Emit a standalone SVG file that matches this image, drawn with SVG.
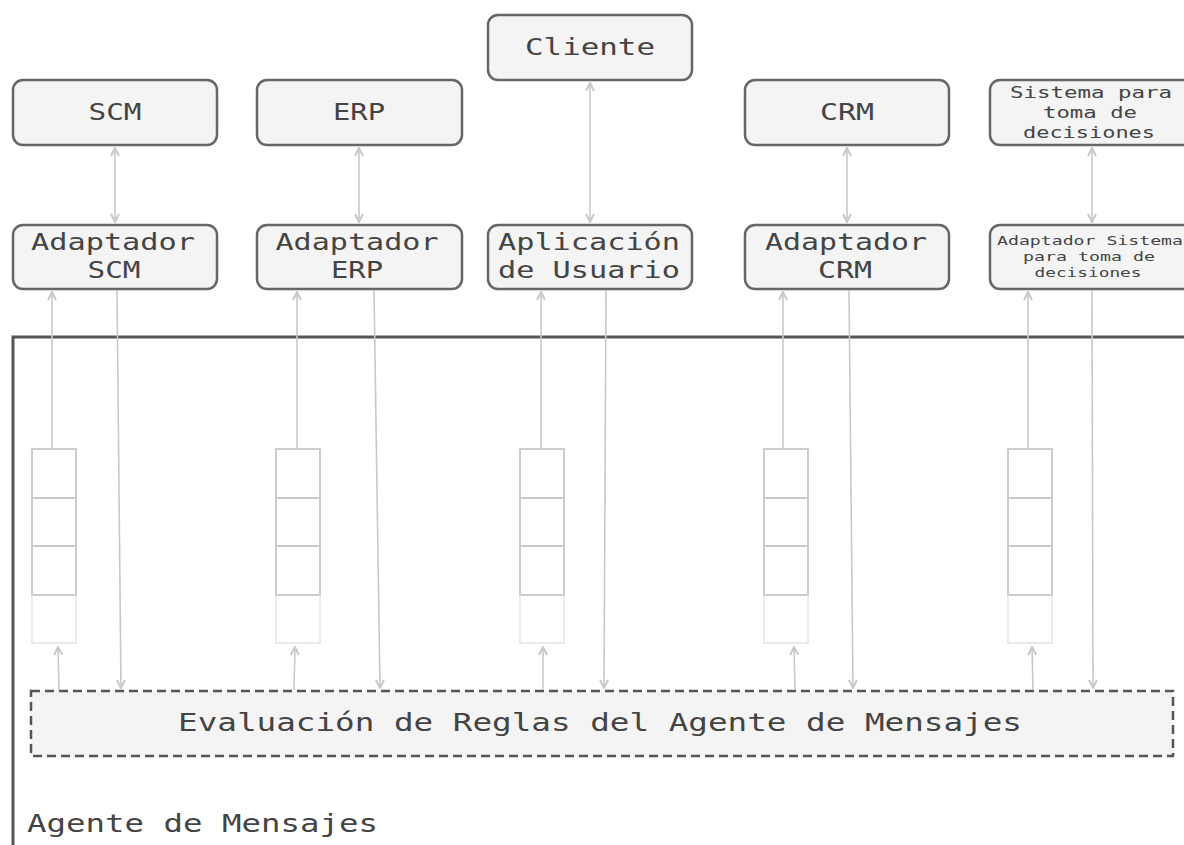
<svg xmlns="http://www.w3.org/2000/svg" width="1184" height="845" viewBox="0 0 1184 845">
<style>
.node{fill:#f4f4f4;stroke:#666;stroke-width:2.5}
.t{font-family:"DejaVu Sans Mono","Liberation Mono",monospace;fill:#444;text-anchor:middle}
.ts{font-family:"DejaVu Sans Mono","Liberation Mono",monospace;fill:#444;text-anchor:start}
.big{font-size:23px}
.c{fill:none;stroke:#c8c8c8;stroke-width:1.6}
.q{fill:#fff;stroke:#c8c8c8;stroke-width:1.8}
.qd{fill:none;stroke:#e4e4e4;stroke-width:1.5}
</style>
<defs>
<marker id="ah" viewBox="0 0 10 10" refX="9" refY="5" markerWidth="10" markerHeight="10" markerUnits="userSpaceOnUse" orient="auto-start-reverse">
<path d="M1,1 L9,5 L1,9" fill="none" stroke="#c8c8c8" stroke-width="2"/>
</marker>
</defs>
<rect width="1184" height="845" fill="#fff"/>

<g id="agente-mensajes">
<rect x="13" y="337" width="1200" height="560" fill="#fff" stroke="#555" stroke-width="3"/>
<text class="ts" x="27" y="832" font-size="24" textLength="351" lengthAdjust="spacingAndGlyphs">Agente de Mensajes</text>
</g>

<g id="scm"><rect class="node" x="13" y="80" width="204" height="65" rx="10"/><text class="t big" x="115" y="120" textLength="53" lengthAdjust="spacingAndGlyphs">SCM</text></g>
<g id="erp"><rect class="node" x="257" y="80" width="205" height="65" rx="10"/><text class="t big" x="359" y="120" textLength="52" lengthAdjust="spacingAndGlyphs">ERP</text></g>
<g id="cliente"><rect class="node" x="488" y="15" width="204" height="65" rx="10"/><text class="t big" x="590" y="55" textLength="130" lengthAdjust="spacingAndGlyphs">Cliente</text></g>
<g id="crm"><rect class="node" x="745" y="80" width="204" height="65" rx="10"/><text class="t big" x="847" y="120" textLength="54" lengthAdjust="spacingAndGlyphs">CRM</text></g>
<g id="sistema"><rect class="node" x="990" y="80" width="210" height="65" rx="10"/>
<text class="t" font-size="16" x="1091" y="98" textLength="162" lengthAdjust="spacingAndGlyphs">Sistema para</text>
<text class="t" font-size="16" x="1090" y="118" textLength="94" lengthAdjust="spacingAndGlyphs">toma de</text>
<text class="t" font-size="16" x="1089" y="138" textLength="132" lengthAdjust="spacingAndGlyphs">decisiones</text></g>

<g id="adaptador-scm"><rect class="node" x="13" y="225" width="204" height="64" rx="10"/>
<text class="t big" x="113" y="250" textLength="164" lengthAdjust="spacingAndGlyphs">Adaptador</text>
<text class="t big" x="114" y="278" textLength="53" lengthAdjust="spacingAndGlyphs">SCM</text></g>
<g id="adaptador-erp"><rect class="node" x="257" y="225" width="205" height="64" rx="10"/>
<text class="t big" x="357" y="250" textLength="163" lengthAdjust="spacingAndGlyphs">Adaptador</text>
<text class="t big" x="357" y="278" textLength="52" lengthAdjust="spacingAndGlyphs">ERP</text></g>
<g id="aplicacion-usuario"><rect class="node" x="488" y="225" width="204" height="64" rx="10"/>
<text class="t big" x="589" y="250" textLength="182" lengthAdjust="spacingAndGlyphs">Aplicación</text>
<text class="t big" x="589" y="278" textLength="182" lengthAdjust="spacingAndGlyphs">de Usuario</text></g>
<g id="adaptador-crm"><rect class="node" x="745" y="225" width="204" height="64" rx="10"/>
<text class="t big" x="846" y="250" textLength="162" lengthAdjust="spacingAndGlyphs">Adaptador</text>
<text class="t big" x="845" y="278" textLength="54" lengthAdjust="spacingAndGlyphs">CRM</text></g>
<g id="adaptador-sistema"><rect class="node" x="990" y="225" width="210" height="64" rx="10"/>
<text class="t" font-size="13" x="1090" y="245" textLength="186" lengthAdjust="spacingAndGlyphs">Adaptador Sistema</text>
<text class="t" font-size="13" x="1089" y="261" textLength="132" lengthAdjust="spacingAndGlyphs">para toma de</text>
<text class="t" font-size="13" x="1088" y="277" textLength="107" lengthAdjust="spacingAndGlyphs">decisiones</text></g>

<g id="evaluacion-reglas">
<rect x="31" y="691" width="1142" height="65" fill="#f4f4f4" stroke="#555" stroke-width="2.5" stroke-dasharray="9,5"/>
<text class="t" x="600" y="731" font-size="24" textLength="844" lengthAdjust="spacingAndGlyphs">Evaluación de Reglas del Agente de Mensajes</text>
</g>

<g id="colas">
<g id="cola-scm"><rect class="q" x="32" y="449" width="44" height="146"/><line class="q" x1="32" y1="498" x2="76" y2="498"/><line class="q" x1="32" y1="546" x2="76" y2="546"/><path class="qd" d="M32,595 V643 H76 V595"/></g>
<g id="cola-erp"><rect class="q" x="276" y="449" width="44" height="146"/><line class="q" x1="276" y1="498" x2="320" y2="498"/><line class="q" x1="276" y1="546" x2="320" y2="546"/><path class="qd" d="M276,595 V643 H320 V595"/></g>
<g id="cola-app"><rect class="q" x="520" y="449" width="44" height="146"/><line class="q" x1="520" y1="498" x2="564" y2="498"/><line class="q" x1="520" y1="546" x2="564" y2="546"/><path class="qd" d="M520,595 V643 H564 V595"/></g>
<g id="cola-crm"><rect class="q" x="764" y="449" width="44" height="146"/><line class="q" x1="764" y1="498" x2="808" y2="498"/><line class="q" x1="764" y1="546" x2="808" y2="546"/><path class="qd" d="M764,595 V643 H808 V595"/></g>
<g id="cola-sistema"><rect class="q" x="1008" y="449" width="44" height="146"/><line class="q" x1="1008" y1="498" x2="1052" y2="498"/><line class="q" x1="1008" y1="546" x2="1052" y2="546"/><path class="qd" d="M1008,595 V643 H1052 V595"/></g>
</g>

<g id="connectors">
<path class="c" d="M115,148 V222" marker-start="url(#ah)" marker-end="url(#ah)"/>
<path class="c" d="M359,148 V222" marker-start="url(#ah)" marker-end="url(#ah)"/>
<path class="c" d="M590,83 V222" marker-start="url(#ah)" marker-end="url(#ah)"/>
<path class="c" d="M847,148 V222" marker-start="url(#ah)" marker-end="url(#ah)"/>
<path class="c" d="M1092,148 V222" marker-start="url(#ah)" marker-end="url(#ah)"/>

<path class="c" d="M52,449 L52,292" marker-end="url(#ah)"/>
<path class="c" d="M297,449 L297,292" marker-end="url(#ah)"/>
<path class="c" d="M541,449 L541,292" marker-end="url(#ah)"/>
<path class="c" d="M783,449 L783,292" marker-end="url(#ah)"/>
<path class="c" d="M1028,449 L1028,292" marker-end="url(#ah)"/>

<path class="c" d="M117,290 L121,688" marker-end="url(#ah)"/>
<path class="c" d="M374,290 L380,688" marker-end="url(#ah)"/>
<path class="c" d="M606,290 L604,688" marker-end="url(#ah)"/>
<path class="c" d="M849,290 L853,688" marker-end="url(#ah)"/>
<path class="c" d="M1092,290 L1093,688" marker-end="url(#ah)"/>

<path class="c" d="M59,690 L58,647" marker-end="url(#ah)"/>
<path class="c" d="M294,690 L295,647" marker-end="url(#ah)"/>
<path class="c" d="M543,690 L543,647" marker-end="url(#ah)"/>
<path class="c" d="M795,690 L794,647" marker-end="url(#ah)"/>
<path class="c" d="M1033,690 L1032,647" marker-end="url(#ah)"/>
</g>
</svg>
